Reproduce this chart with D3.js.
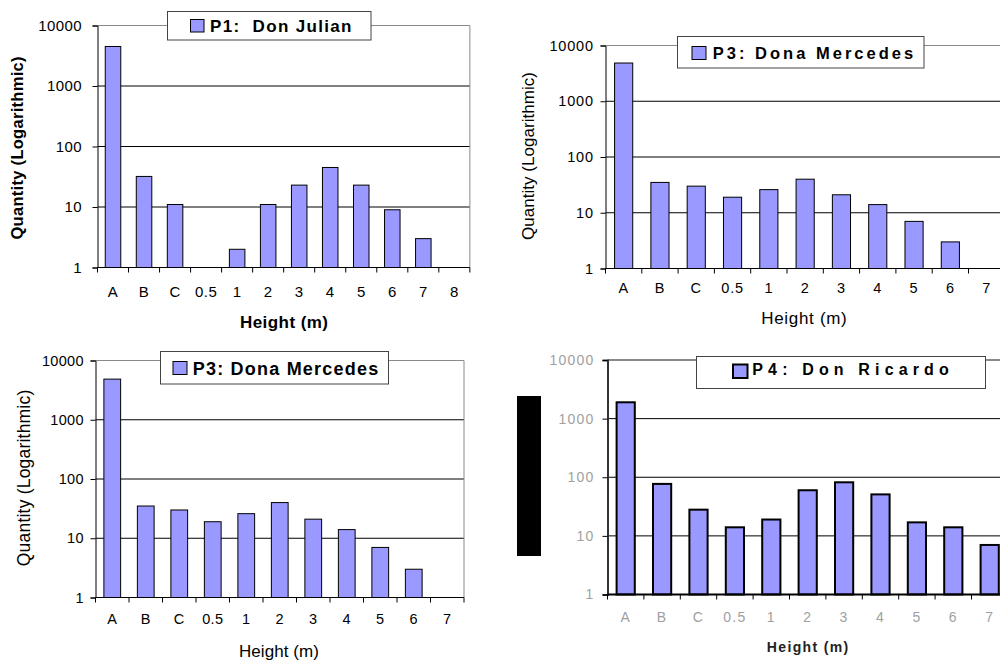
<!DOCTYPE html>
<html>
<head>
<meta charset="utf-8">
<script src="https://cdn.jsdelivr.net/npm/d3@7"></script>
<style>
  body { margin: 0; background: #fff; }
  svg { display: block; font-family: "Liberation Sans", Arial, sans-serif; }
</style>
</head>
<body>
<div id="svg_container"></div>
<script>
// categories (height classes) and counts per plot
const catsP1 = ["A", "B", "C", "0.5", "1", "2", "3", "4", "5", "6", "7", "8"];
const valsP1 = [4500, 32, 11, 0, 2, 11, 23, 45, 23, 9, 3, 0];

const catsP3 = ["A", "B", "C", "0.5", "1", "2", "3", "4", "5", "6", "7"];
const valsP3 = [4850, 35, 30, 19, 26, 40, 21, 14, 7, 3, 0];

const catsP4 = ["A", "B", "C", "0.5", "1", "2", "3", "4", "5", "6", "7"];
const valsP4 = [1900, 77, 28, 14, 19, 60, 82, 51, 17, 14, 7];

const yTicks = [1, 10, 100, 1000, 10000];
const gridTicks = [10, 100, 1000];

const barFill = "#9999ff";

const svg = d3.select("#svg_container").append("svg")
    .attr("width", 1000)
    .attr("height", 660);

function drawPanel(p) {
    const g = svg.append("g");
    const n = p.cats.length;

    const x = d3.scaleBand()
        .domain(p.cats)
        .range([p.left, p.left + p.step * n])
        .paddingInner(0.5)
        .paddingOuter(0.25);
    const y = d3.scaleLog()
        .domain([1, 10000])
        .range([p.bottom, p.top]);
    const right = x.range()[1];

    // grid lines
    g.selectAll("line.grid")
        .data(gridTicks)
        .join("line")
        .attr("x1", p.left).attr("x2", right)
        .attr("y1", d => y(d)).attr("y2", d => y(d))
        .attr("stroke", "#000")
        .attr("stroke-width", 1);

    // plot area border (top + right)
    g.append("line")
        .attr("x1", p.left).attr("x2", right)
        .attr("y1", p.top).attr("y2", p.top)
        .attr("stroke", "#8a8a8a")
        .attr("stroke-width", p.heavy ? 2 : 1);
    g.append("line")
        .attr("x1", right).attr("x2", right)
        .attr("y1", p.top).attr("y2", p.bottom)
        .attr("stroke", "#8a8a8a")
        .attr("stroke-width", p.heavy ? 2 : 1);

    // bars
    const rows = p.cats.map((c, i) => ({ cat: c, value: p.vals[i] })).filter(d => d.value > 0);
    g.selectAll("rect.bar")
        .data(rows)
        .join("rect")
        .attr("x", d => x(d.cat))
        .attr("y", d => y(d.value))
        .attr("width", x.bandwidth())
        .attr("height", d => p.bottom - y(d.value))
        .attr("fill", barFill)
        .attr("stroke", "#000")
        .attr("stroke-width", p.heavy ? 2 : 1);

    // y axis
    const ya = g.append("g")
        .attr("transform", `translate(${p.left},0)`)
        .call(d3.axisLeft(y).tickValues(yTicks).tickFormat(d3.format("d")).tickSize(5).tickPadding(p.yPad));
    ya.select(".domain").attr("stroke", p.heavy ? "#333" : "#000").attr("stroke-width", p.heavy ? 2 : 1);
    ya.selectAll(".tick line").attr("stroke", "#000");
    ya.selectAll(".tick text")
        .attr("font-size", p.tickFont)
        .attr("font-family", "Liberation Sans, Arial, sans-serif")
        .attr("fill", p.tickColor)
        .style("letter-spacing", p.tickSpacing + "px");

    // x axis: labels centred in bands, tick marks on band edges
    const xa = g.append("g")
        .attr("transform", `translate(0,${p.bottom})`)
        .call(d3.axisBottom(x).tickSize(0).tickPadding(p.xPad));
    xa.select(".domain").remove();
    xa.selectAll(".tick text")
        .attr("font-size", p.tickFont)
        .attr("font-family", "Liberation Sans, Arial, sans-serif")
        .attr("fill", p.tickColor)
        .style("letter-spacing", p.tickSpacing + "px");

    g.append("line")
        .attr("x1", p.left).attr("x2", right)
        .attr("y1", p.bottom).attr("y2", p.bottom)
        .attr("stroke", "#000")
        .attr("stroke-width", p.heavy ? 2 : 1);

    const edges = p.cats.map(c => x(c) - x.step() * 0.25).concat([right]);
    g.selectAll("line.xtick")
        .data(edges)
        .join("line")
        .attr("x1", d => d).attr("x2", d => d)
        .attr("y1", p.bottom).attr("y2", p.bottom + 5)
        .attr("stroke", "#000");

    // axis titles
    g.append("text")
        .attr("x", p.xTitle.x)
        .attr("y", p.xTitle.y)
        .attr("text-anchor", "middle")
        .attr("font-size", p.xTitle.size)
        .attr("font-weight", p.xTitle.bold ? "bold" : "normal")
        .attr("fill", p.xTitle.color || "#000")
        .attr("textLength", p.xTitle.len)
        .attr("lengthAdjust", "spacing")
        .text("Height (m)");

    if (p.yTitle) {
        g.append("text")
            .attr("transform", `translate(${p.yTitle.x},${p.yTitle.y}) rotate(-90)`)
            .attr("text-anchor", "middle")
            .attr("font-size", p.yTitle.size)
            .attr("font-weight", p.yTitle.bold ? "bold" : "normal")
            .attr("textLength", p.yTitle.len)
            .attr("lengthAdjust", "spacing")
            .text("Quantity (Logarithmic)");
    }

    // legend box
    const lg = p.legend;
    g.append("rect")
        .attr("x", lg.x).attr("y", lg.y)
        .attr("width", lg.w).attr("height", lg.h)
        .attr("fill", "#fff")
        .attr("stroke", "#444")
        .attr("stroke-width", 1);
    g.append("rect")
        .attr("x", lg.sx).attr("y", lg.sy)
        .attr("width", lg.ss).attr("height", lg.ss - 1)
        .attr("fill", barFill)
        .attr("stroke", "#000")
        .attr("stroke-width", p.heavy ? 2 : 1);
    g.append("text")
        .attr("x", lg.tx).attr("y", lg.ty)
        .attr("font-size", lg.size)
        .attr("font-weight", "bold")
        .attr("textLength", lg.len)
        .attr("lengthAdjust", "spacing")
        .style("white-space", "pre")
        .text(p.name);
}

drawPanel({
    name: "P1:  Don Julian", cats: catsP1, vals: valsP1,
    left: 97.5, top: 25.5, bottom: 267.5, step: 31.03,
    yPad: 10.5, xPad: 18.5, tickFont: 15, tickColor: "#000", tickSpacing: 0.4,
    xTitle: { x: 284, y: 328, size: 17, bold: true, len: 88 },
    yTitle: { x: 22.5, y: 148, size: 16.5, bold: true, len: 183 },
    legend: { x: 167.5, y: 11.5, w: 203.5, h: 28.5, sx: 190.5, sy: 19.5, ss: 13.5, tx: 210, ty: 31.5, size: 17, len: 141.5 }
});

drawPanel({
    name: "P3: Dona Mercedes", cats: catsP3, vals: valsP3,
    left: 605.5, top: 45.5, bottom: 268.5, step: 36.3,
    yPad: 6.7, xPad: 14.3, tickFont: 14.5, tickColor: "#000", tickSpacing: 0.8,
    xTitle: { x: 804, y: 324, size: 17, bold: false, len: 85.5 },
    yTitle: { x: 534, y: 156, size: 17, bold: false, len: 168 },
    legend: { x: 677.5, y: 36.5, w: 246.5, h: 31.5, sx: 692, sy: 46.5, ss: 14, tx: 712.7, ty: 59, size: 16.5, len: 200.5 }
});

drawPanel({
    name: "P3: Dona Mercedes", cats: catsP3, vals: valsP3,
    left: 95.5, top: 360.5, bottom: 597.5, step: 33.5,
    yPad: 6.7, xPad: 16.3, tickFont: 14.5, tickColor: "#000", tickSpacing: 0.3,
    xTitle: { x: 279, y: 656.5, size: 17, bold: false, len: 80 },
    yTitle: { x: 30, y: 478, size: 17.5, bold: false, len: 176.5 },
    legend: { x: 160.5, y: 351.5, w: 228, h: 32.5, sx: 173, sy: 361.5, ss: 14, tx: 192.7, ty: 374.7, size: 18, len: 185.5 }
});

drawPanel({
    name: "P4: Don Ricardo", cats: catsP4, vals: valsP4, heavy: true,
    left: 607.5, top: 360, bottom: 594.5, step: 36.4,
    yPad: 8, xPad: 17.4, tickFont: 14, tickColor: "#a0a0a0", tickSpacing: 1.2,
    xTitle: { x: 807.5, y: 651.5, size: 14, bold: true, len: 81.5, color: "#222" },
    yTitle: null,
    legend: { x: 696.5, y: 356.5, w: 289, h: 32, sx: 733, sy: 364.5, ss: 14.5, tx: 752.3, ty: 375, size: 16, len: 196.5 }
});

// black block covering the y axis title of the last panel
svg.append("rect")
    .attr("x", 517).attr("y", 396)
    .attr("width", 24).attr("height", 160)
    .attr("fill", "#000");
</script>
</body>
</html>
